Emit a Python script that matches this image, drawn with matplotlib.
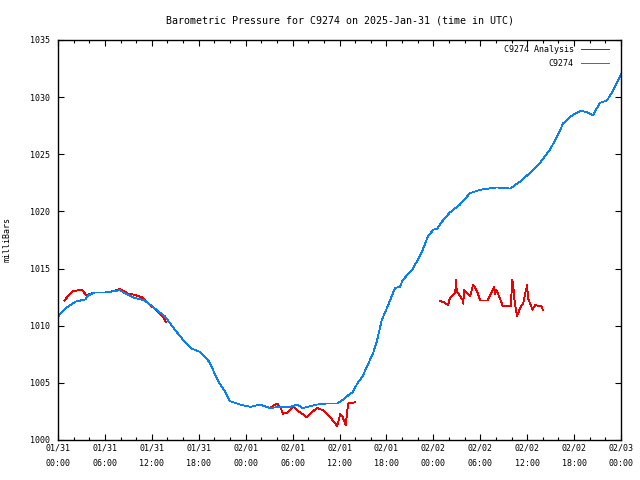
import pandas as pd
import matplotlib
matplotlib.use('Agg')
import matplotlib.pyplot as plt
import matplotlib.dates as mdates

# hours after 2025-01-31 00:00 UTC, pressure in mb
blue_hours = [0, 0.9, 2.2, 3.5, 3.8, 4.7, 6.0, 7.9, 9.5, 11.1, 12.4, 13.7, 15.0, 16.2,
              17.1, 18.2, 19.4, 20.1, 20.7, 21.4, 22.0, 23.3, 24.6, 25.8, 27.1, 28.4,
              29.7, 30.6, 31.3, 33.1, 34.4, 35.7, 36.4, 37.1, 37.7, 38.4, 38.9, 39.5,
              40.3, 40.8, 41.4, 42.1, 43.1, 43.7, 44.1, 45.4, 46.5, 47.3, 48.0, 48.5,
              49.1, 50.1, 51.4, 52.7, 54.0, 56.1, 57.8, 59.1, 60.4, 61.6, 62.9, 63.8,
              64.6, 65.5, 66.8, 67.6, 68.4, 69.3, 70.2, 71.0, 72.0]
blue_mb = [1010.8, 1011.5, 1012.1, 1012.3, 1012.6, 1012.9, 1012.9, 1013.1, 1012.5, 1012.2,
           1011.5, 1010.8, 1009.6, 1008.6, 1008.0, 1007.7, 1006.8, 1005.7, 1004.9, 1004.2,
           1003.4, 1003.1, 1002.9, 1003.1, 1002.8, 1002.9, 1002.9, 1003.1, 1002.8, 1003.1,
           1003.2, 1003.2, 1003.5, 1003.9, 1004.2, 1005.1, 1005.5, 1006.4, 1007.6, 1008.7,
           1010.5, 1011.6, 1013.3, 1013.4, 1014.0, 1015.0, 1016.4, 1017.8, 1018.4, 1018.5,
           1019.1, 1019.9, 1020.6, 1021.6, 1021.9, 1022.1, 1022.0, 1022.6, 1023.4, 1024.2,
           1025.4, 1026.5, 1027.7, 1028.3, 1028.8, 1028.7, 1028.4, 1029.5, 1029.7, 1030.6,
           1032.0]

red1_hours = [0.8, 1.8, 2.6, 3.1, 3.7, 3.8, 4.5, 6.0, 6.9, 7.9, 9.0, 9.8, 10.7, 11.5,
              12.8, 13.4, 13.8]
red1_mb = [1012.2, 1013.0, 1013.1, 1013.1, 1012.6, 1012.7, 1012.9, 1012.9, 1013.0, 1013.2,
           1012.8, 1012.7, 1012.5, 1012.0, 1011.2, 1010.8, 1010.3]

red2_hours = [25.2, 25.8, 27.1, 28.0, 28.4, 28.8, 29.3, 29.9, 30.1, 30.6, 31.8, 33.1, 33.9,
              34.8, 35.4, 35.7, 36.1, 36.4, 36.8, 37.1, 38.0]
red2_mb = [1003.0, 1003.1, 1002.8, 1003.2, 1002.9, 1002.3, 1002.4, 1002.8, 1002.9, 1002.6,
           1002.0, 1002.8, 1002.6, 1002.0, 1001.5, 1001.2, 1002.3, 1002.0, 1001.3, 1003.2,
           1003.3]

red3_hours = [48.8, 49.5, 49.9, 50.1, 50.8, 50.9, 51.0, 51.8, 51.85, 51.9, 52.7, 53.1, 53.6,
              54.0, 54.9, 55.0, 55.8, 55.9, 56.1, 56.9, 57.4, 57.9, 58.1, 58.2, 58.4, 58.7,
              59.0, 59.5, 60.0, 60.1, 60.7, 61.0, 61.8, 62.0]
red3_mb = [1012.2, 1012.0, 1011.8, 1012.4, 1012.9, 1014.0, 1013.0, 1012.2, 1011.9, 1013.1,
           1012.6, 1013.6, 1013.0, 1012.2, 1012.2, 1012.3, 1013.4, 1012.8, 1013.1, 1011.7,
           1011.7, 1011.7, 1014.0, 1013.6, 1012.1, 1010.8, 1011.4, 1012.0, 1013.6, 1012.4,
           1011.4, 1011.8, 1011.7, 1011.4]

start = pd.Timestamp('2025-01-31 00:00')


def to_time(hours):
    return [start + pd.Timedelta(hours=h) for h in hours]


plt.rcParams['font.family'] = 'DejaVu Sans Mono'
plt.rcParams['font.size'] = 6

fig = plt.figure(figsize=(6.4, 4.8), dpi=100)
ax = fig.add_axes([58 / 640, 40 / 480, 563 / 640, 400 / 480])

red = '#ee0000'
blue = '#0a80f0'
lw = 0.6
ax.plot(to_time(red1_hours), red1_mb, color=red, lw=lw, antialiased=False, label='C9274 Analysis')
ax.plot(to_time(red2_hours), red2_mb, color=red, lw=lw, antialiased=False)
ax.plot(to_time(red3_hours), red3_mb, color=red, lw=lw, antialiased=False)
ax.plot(to_time(blue_hours), blue_mb, color=blue, lw=lw, antialiased=False, label='C9274')

ax.set_xlim(start, start + pd.Timedelta(hours=72))
ax.set_ylim(1000, 1035)
ax.set_yticks(range(1000, 1036, 5))
ax.xaxis.set_major_locator(mdates.HourLocator(byhour=[0, 6, 12, 18]))
ax.xaxis.set_minor_locator(mdates.HourLocator(byhour=range(0, 24, 2)))
ax.xaxis.set_major_formatter(mdates.DateFormatter('%m/%d\n%H:%M'))
ax.tick_params(which='major', direction='in', length=4.5, width=0.8, top=True, right=True)
ax.tick_params(axis='x', which='minor', direction='in', length=2.3, width=0.8, top=True)
ax.tick_params(axis='x', pad=2.5)
ax.tick_params(axis='y', pad=5.5)
for lab in ax.get_xticklabels():
    lab.set_linespacing(1.9)
for s in ax.spines.values():
    s.set_linewidth(1)

ax.set_ylabel('milliBars')
ax.yaxis.set_label_coords(-0.082, 0.5)
ax.set_title('Barometric Pressure for C9274 on 2025-Jan-31 (time in UTC)', pad=12)

leg = ax.legend(loc='upper right', bbox_to_anchor=(0.9845, 0.996), frameon=False,
                markerfirst=False, handlelength=3.4, labelspacing=0.55, borderaxespad=0,
                handletextpad=0.85)
for line in leg.get_lines():
    line.set_antialiased(False)
    line.set_linewidth(0.72)

fig.savefig('out.png', dpi=100)
